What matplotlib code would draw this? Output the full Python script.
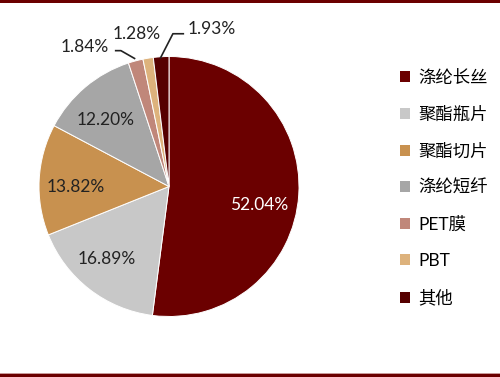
import matplotlib
matplotlib.use("Agg")
import matplotlib.pyplot as plt
from matplotlib.patches import Patch, Rectangle

# ── Datos ──────────────────────────────────────────────────────────────
categorias = ["涤纶长丝", "聚酯瓶片", "聚酯切片", "涤纶短纤", "PET膜", "PBT", "其他"]
valores = [52.04, 16.89, 13.82, 12.20, 1.84, 1.28, 1.93]
colores = ["#6B0000", "#C8C8C8", "#C8914F", "#A6A6A6", "#C0877A", "#DDB27C", "#560000"]

# posicion de las etiquetas (coordenadas del eje, radio 1)
pos_etiquetas = [(0.69, -0.14), (-0.48, -0.56), (-0.72, 0.0), (-0.49, 0.51),
                 (-0.65, 1.075), (-0.245, 1.17), (0.33, 1.21)]
color_etiqueta = ["white", "#222222", "#222222", "#222222", "#222222", "#222222", "#222222"]
FUENTE = ["Lato", "Noto Sans CJK SC", "DejaVu Sans"]

fig = plt.figure(figsize=(5.0, 3.77), dpi=100)
R = 130.0
cx, cy = 169.0, 377 - 186.5
ax = fig.add_axes([(cx - R) / 500, (cy - R) / 377, 2 * R / 500, 2 * R / 377])

wedges, _ = ax.pie(valores, colors=colores, startangle=90, counterclock=False,
                   wedgeprops=dict(edgecolor="white", linewidth=0.7))
ax.set_xlim(-1, 1)
ax.set_ylim(-1, 1)

for v, (x, y), c in zip(valores, pos_etiquetas, color_etiqueta):
    ax.text(x, y, f"{v:.2f}%", ha="center", va="center", color=c,
            fontsize=12.5, family=FUENTE, clip_on=False)

# lineas guia de las porciones pequenas
ax.plot([-0.41, -0.37, -0.265], [1.045, 1.045, 0.985], color="#222222", lw=1.2, clip_on=False)
ax.plot([0.11, 0.03, -0.065], [1.175, 1.175, 0.99], color="#222222", lw=1.2, clip_on=False)

handles = [Patch(facecolor=c, edgecolor="none") for c in colores]
fig.legend(handles, categorias, loc="upper left", bbox_to_anchor=(400 / 500, 1 - 70 / 377),
           frameon=False, prop=dict(family=FUENTE, size=12.5),
           handlelength=0.6, handleheight=0.6, handletextpad=0.45,
           labelspacing=1.18, borderaxespad=0, borderpad=0)

# bordes rojos superior e inferior
fig.patches.append(Rectangle((0, 1 - 3 / 377), 1, 3 / 377, transform=fig.transFigure,
                             facecolor="#6B0000", edgecolor="none"))
fig.patches.append(Rectangle((0, 3 / 377), 1, 1.2 / 377, transform=fig.transFigure,
                             facecolor="#C89A9A", edgecolor="none"))
fig.patches.append(Rectangle((0, 0), 1, 3 / 377, transform=fig.transFigure,
                             facecolor="#6B0000", edgecolor="none"))

fig.savefig("out.png", dpi=100)
